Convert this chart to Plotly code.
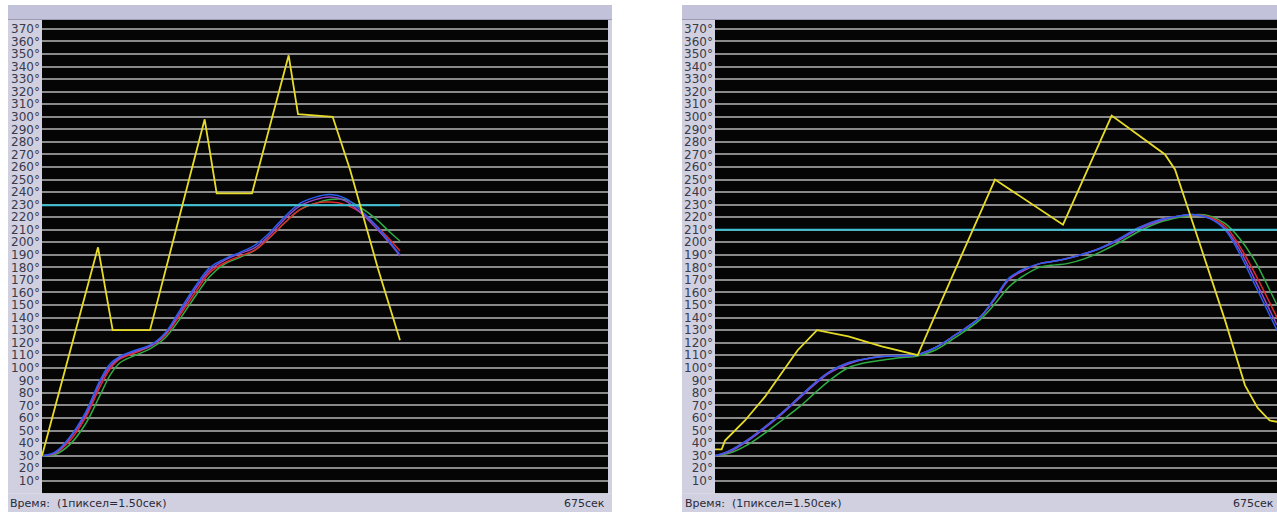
import plotly.graph_objects as go

W, H = 1277, 512

# ---------- data (time in seconds, temperature in degrees) ----------
y_ticks = list(range(10, 380, 10))
y_labels = [f"{v}°" for v in y_ticks]

# Left panel
L_yellow_t = [0, 84, 106, 162, 244, 262, 315, 370, 384, 436, 462, 484, 504, 537]
L_yellow_v = [30, 196, 130, 130, 298, 239, 239, 349, 302, 300, 258, 216, 179, 122]
L_cyan_t = [0, 537]
L_cyan_v = [229.5, 229.5]
L_curve_t = [0, 20, 42, 65, 87, 102, 117, 140, 162, 185, 207, 230, 252, 275, 297,
             320, 342, 365, 387, 410, 432, 455, 477, 500, 522, 537]
L_red = [30, 32, 42, 60, 85, 99, 107, 112, 117, 126, 142, 160, 176, 184, 189,
         194, 204, 216, 226, 231, 232, 230, 224, 214, 202, 193]
L_blue = [30, 33, 45, 64, 90, 103, 109, 114, 118, 128, 146, 165, 180, 187, 192,
          198, 208, 221, 231, 236, 238, 235, 226, 214, 200, 190]
L_green = [30, 31, 39, 55, 78, 94, 104, 110, 115, 124, 139, 157, 173, 183, 188,
           194, 204, 216, 226, 231, 234, 234, 228, 219, 208, 201]
L_purple = [30, 32, 44, 62, 88, 101, 108, 113, 117, 127, 144, 163, 178, 186, 191,
            196, 206, 219, 229, 234, 236, 233, 224, 212, 199, 189]

# Right panel
R_yellow_t = [0, 10, 15, 45, 75, 100, 124, 153, 200, 250, 304, 327, 387, 420, 522,
              577, 595, 675, 690, 727, 765, 795, 814, 832, 843]
R_yellow_v = [35, 35, 42, 58, 77, 96, 114, 130, 125, 117, 110, 138, 211, 250, 214,
              280, 301, 270, 258, 199, 138, 86, 68, 58, 57]
R_cyan_t = [0, 843]
R_cyan_v = [210, 210]
R_curve_t = [0, 22, 50, 75, 100, 127, 150, 172, 200, 225, 250, 277, 300, 330, 360,
             397, 420, 442, 465, 487, 510, 528, 555, 577, 607, 637, 667, 697, 720,
             742, 765, 787, 810, 832, 843]
R_blue = [30, 34, 43, 53, 64, 77, 88, 97, 104, 107, 109, 109.5, 110, 116, 126,
          140, 156, 172, 179, 183, 185, 187, 191, 195, 203, 212, 218, 221, 222,
          219, 210, 191, 166, 142, 130]
R_red = [30, 34, 43, 53, 64, 77, 88, 97, 104, 107, 109, 109.5, 110, 116, 126,
         140, 155, 171, 178, 183, 185, 187, 191, 195, 203, 212, 218, 221, 222,
         220, 213, 197, 175, 152, 140]
R_purple = [30, 33, 42, 52, 63, 76, 87, 96, 103, 107, 109, 109.5, 110, 116, 126,
            140, 155, 171, 178, 183, 185, 187, 191, 195, 202, 211, 217, 221, 222,
            219, 211, 194, 170, 146, 134]
R_green = [30, 32, 39, 48, 58, 69, 80, 90, 100, 104, 106, 108, 109, 114, 124,
           138, 151, 165, 174, 180, 182, 183, 187, 192, 200, 209, 216, 220, 222,
           221, 215, 203, 185, 162, 150]

footer_left = "Время:  (1пиксел=1.50сек)"
footer_right = "675сек"

# ---------- styling ----------
YELLOW = "#e6dc28"
CYAN = "#3cc0d2"
RED = "#e02a2a"
GREEN = "#2fae45"
BLUE = "#2a5ef0"
PURPLE = "#9446c8"
FRAME = "#c2c2da"
FRAME_LIGHT = "#d0d0e0"
PLOT_BG = "#050505"

def px_x(p):
    return p / W

def px_y(p):
    return 1 - p / H

fig = go.Figure()

def add_panel(xa, ya, curves, cyan, yellow):
    for t, v, c in curves:
        fig.add_trace(go.Scatter(x=t, y=v, mode="lines", xaxis=xa, yaxis=ya,
                                 line=dict(color=c, width=1.5, shape="spline", smoothing=1.0),
                                 hoverinfo="skip", showlegend=False))
    fig.add_trace(go.Scatter(x=cyan[0], y=cyan[1], mode="lines", xaxis=xa, yaxis=ya,
                             line=dict(color=CYAN, width=1.8),
                             hoverinfo="skip", showlegend=False))
    fig.add_trace(go.Scatter(x=yellow[0], y=yellow[1], mode="lines", xaxis=xa, yaxis=ya,
                             line=dict(color=YELLOW, width=1.8),
                             hoverinfo="skip", showlegend=False))

add_panel("x", "y",
          [(L_curve_t, L_green, GREEN), (L_curve_t, L_red, RED),
           (L_curve_t, L_purple, PURPLE), (L_curve_t, L_blue, BLUE)],
          (L_cyan_t, L_cyan_v), (L_yellow_t, L_yellow_v))
add_panel("x2", "y2",
          [(R_curve_t, R_green, GREEN), (R_curve_t, R_red, RED),
           (R_curve_t, R_purple, PURPLE), (R_curve_t, R_blue, BLUE)],
          (R_cyan_t, R_cyan_v), (R_yellow_t, R_yellow_v))

ydom = [px_y(493.3), px_y(20)]
yax = dict(range=[0, 377.1], domain=ydom, tickmode="array", tickvals=y_ticks,
           ticktext=y_labels, showgrid=True, gridcolor="#8a8a8a", gridwidth=2,
           zeroline=False, showline=False, ticks="", ticklabelstandoff=1,
           tickfont=dict(family="DejaVu Sans", size=12, color="#3a3a4a"))
xax = dict(showgrid=False, zeroline=False, showticklabels=False, showline=False, ticks="")

shapes = []
# panel frames (kept outside the plotting areas)
for x0, x1, px0, px1 in [(8, 612, 42, 608), (682, 1290, 715, 1290)]:
    shapes.append(dict(type="rect", xref="paper", yref="paper", x0=px_x(x0), x1=px_x(x1),
                       y0=0, y1=px_y(493.3), fillcolor=FRAME_LIGHT, line=dict(width=0), layer="below"))
    shapes.append(dict(type="rect", xref="paper", yref="paper", x0=px_x(x0), x1=px_x(px0),
                       y0=px_y(493.3), y1=px_y(20), fillcolor=FRAME_LIGHT, line=dict(width=0), layer="below"))
    shapes.append(dict(type="rect", xref="paper", yref="paper", x0=px_x(px1), x1=px_x(x1),
                       y0=px_y(493.3), y1=px_y(20), fillcolor=FRAME_LIGHT, line=dict(width=0), layer="below"))
    shapes.append(dict(type="rect", xref="paper", yref="paper", x0=px_x(x0), x1=px_x(x1),
                       y0=px_y(20), y1=px_y(5), fillcolor=FRAME, line=dict(width=0), layer="below"))
    shapes.append(dict(type="line", xref="paper", yref="paper", x0=px_x(x0), x1=px_x(x1),
                       y0=px_y(19.5), y1=px_y(19.5), line=dict(color="#9a9ab4", width=1), layer="below"))

annotations = []
for x0 in [8, 683]:
    annotations.append(dict(text=footer_left, xref="paper", yref="paper", x=px_x(x0), y=px_y(503),
                            xanchor="left", yanchor="middle", showarrow=False,
                            font=dict(family="DejaVu Sans", size=11, color="#2a2a38")))
for xr in [607, 1276]:
    annotations.append(dict(text=footer_right, xref="paper", yref="paper", x=px_x(xr), y=px_y(503),
                            xanchor="right", yanchor="middle", showarrow=False,
                            font=dict(family="DejaVu Sans", size=11, color="#2a2a38")))

fig.update_layout(
    width=W, height=H,
    margin=dict(l=0, r=0, t=0, b=0),
    paper_bgcolor="white", plot_bgcolor=PLOT_BG,
    xaxis=dict(xax, domain=[px_x(42), px_x(608)], range=[0, 849]),
    yaxis=dict(yax, anchor="x"),
    xaxis2=dict(xax, domain=[px_x(715), 1.0], range=[0, 843], anchor="y2"),
    yaxis2=dict(yax, anchor="x2"),
    shapes=shapes, annotations=annotations,
    showlegend=False,
)

fig.write_html("out.html", config={"displayModeBar": False},
               post_script="document.body.style.margin='0';document.body.style.padding='0';"
                           "document.body.style.overflow='hidden';")
